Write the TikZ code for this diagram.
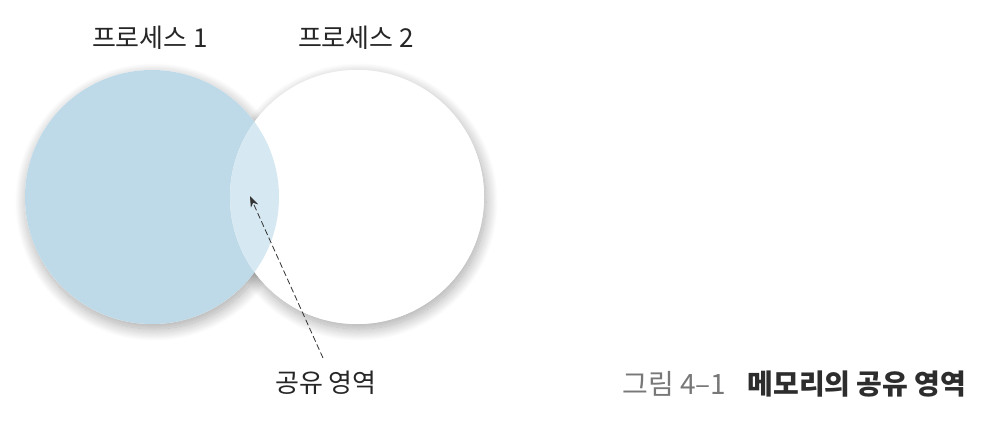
\documentclass[tikz,border=0pt]{standalone}
\usepackage{fontspec}
\setmainfont{Noto Sans CJK KR}
\usetikzlibrary{shadows.blur,arrows.meta}
\definecolor{procblue}{RGB}{190,218,232}
\definecolor{shareblue}{RGB}{214,232,242}
\definecolor{capgray}{RGB}{120,120,120}
\definecolor{capdark}{RGB}{45,45,45}
\tikzset{
  proc/.style={circle,minimum size=254pt,inner sep=0pt},
  procshadow/.style={proc,fill=white,
    blur shadow={shadow xshift=2pt,shadow yshift=-5pt,shadow blur radius=12pt,
      shadow blur steps=24,shadow opacity=35}},
  proclabel/.style={font=\fontsize{26}{30}\selectfont,text=black!85},
  pointer/.style={-{Stealth[length=11pt,width=8pt]},dash pattern=on 6pt off 3pt,thick,black!80}
}
\begin{document}
\begin{tikzpicture}[x=1pt,y=-1pt]
\useasboundingbox (0,0) rectangle (993,430);
% shadows first, then the circles on top
\node[procshadow] (s1) at (152,197) {};
\node[procshadow] (s2) at (357,197) {};
\node[proc,fill=procblue] (p1) at (152,197) {};
\node[proc,fill=white] (p2) at (357,197) {};
\begin{scope}
  \clip (152,197) circle (127pt);
  \fill[shareblue] (357,197) circle (127pt);
\end{scope}
% labels
\node[proclabel] (l1) at (150,38) {프로세스 1};
\node[proclabel] (l2) at (356,38) {프로세스 2};
\node[proclabel] (share) at (326,383) {공유 영역};
\coordinate (tip) at (250,196);
\coordinate (tail) at (323,358);
\draw[pointer] (tail) -- (tip);
% caption
\node[font=\fontsize{28}{32}\selectfont,text=capgray,anchor=west] (capnum) at (619,384) {그림 4–1};
\node[font=\fontsize{28}{32}\selectfont\bfseries,text=capdark,anchor=west] (captext) at (744,384) {메모리의 공유 영역};
\end{tikzpicture}
\end{document}
